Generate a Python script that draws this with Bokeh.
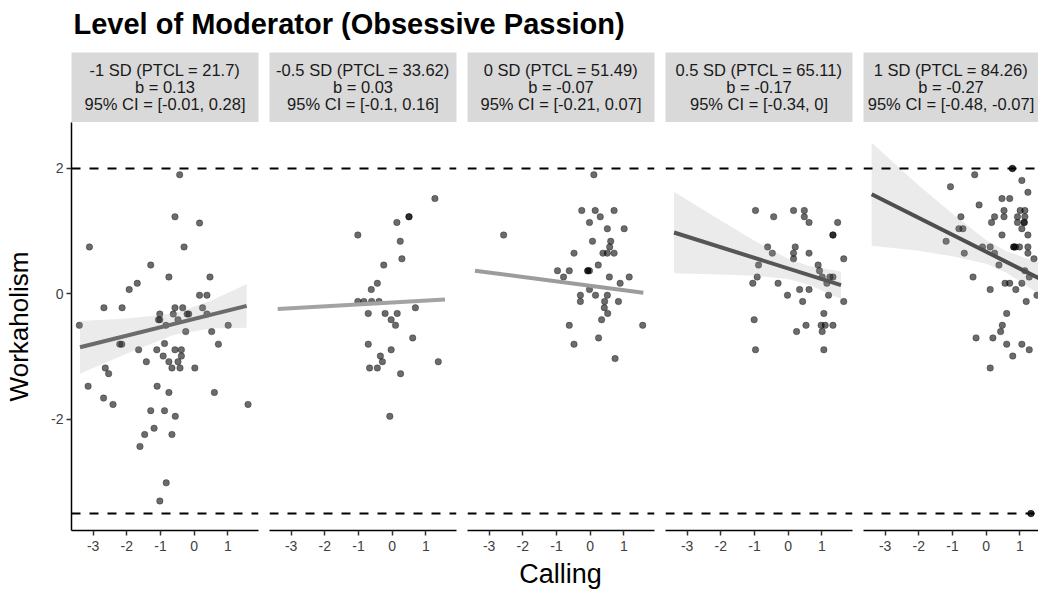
from bokeh.plotting import figure
from bokeh.layouts import column, row
from bokeh.models import Range1d, FixedTicker, Span
from bokeh.core.properties import value
from bokeh.embed import file_html
from bokeh.resources import INLINE

FONT = "Liberation Sans"

title_text = "Level of Moderator (Obsessive Passion)"
x_label = "Calling"
y_label = "Workaholism"
x_ticks = [-3, -2, -1, 0, 1]
x_tick_labels = ["-3", "-2", "-1", "0", "1"]
y_ticks = [-2, 0, 2]
y_tick_labels = ["-2", "0", "2"]
ref_lines = [2.0, -3.5]

strip_level = ["-1 SD (PTCL = 21.7)", "-0.5 SD (PTCL = 33.62)", "0 SD (PTCL = 51.49)",
               "0.5 SD (PTCL = 65.11)", "1 SD (PTCL = 84.26)"]
strip_b = ["b = 0.13", "b = 0.03", "b = -0.07", "b = -0.17", "b = -0.27"]
strip_ci = ["95% CI = [-0.01, 0.28]", "95% CI = [-0.1, 0.16]", "95% CI = [-0.21, 0.07]",
            "95% CI = [-0.34, 0]", "95% CI = [-0.48, -0.07]"]

# (Calling, Workaholism) points per moderator level
points_m1sd = [(-3.41, -0.50), (-3.11, 0.75), (-3.15, -1.47), (-2.68, -0.22), (-2.64, -1.18),
               (-2.54, -1.27), (-2.69, -1.66), (-2.41, -1.76), (-2.14, -0.22), (-2.21, -0.80),
               (-2.15, -0.80), (-1.93, 0.07), (-1.69, 0.17), (-1.65, -0.89), (-1.42, -1.08),
               (-1.61, -2.43), (-1.47, -2.24), (-1.29, 0.46), (-1.29, -1.86), (-1.19, -2.14),
               (-1.11, -0.89), (-1.10, -1.47), (-1.02, -0.32), (-1.02, -0.41), (-1.06, -0.41),
               (-0.92, -0.99), (-0.88, -0.79), (-0.88, -1.86), (-0.84, -0.50), (-0.83, -3.01),
               (-1.02, -3.30), (-0.75, 0.27), (-0.75, -1.08), (-0.75, -1.57), (-0.66, -1.18),
               (-0.66, -2.24), (-0.62, -0.32), (-0.57, 1.23), (-0.57, -0.22), (-0.57, -0.89),
               (-0.56, -1.95), (-0.48, -0.41), (-0.48, -1.08), (-0.43, 1.90), (-0.38, -0.89),
               (-0.38, -0.99), (-0.42, -1.18), (-0.34, -0.22), (-0.30, 0.75), (-0.25, -0.60),
               (-0.21, -0.32), (-0.16, -0.32), (0.02, -1.18), (0.16, 1.13), (0.16, -0.02),
               (0.25, -0.22), (0.38, -0.02), (0.38, -0.32), (0.47, 0.27), (0.52, -0.60),
               (0.60, -1.57), (0.72, -0.80), (1.01, -0.50), (1.60, -1.76)]
points_m05sd = [(1.27, 1.52), (0.50, 1.23), (0.50, 1.23), (0.14, 1.14), (-1.02, 0.94), (0.24, 0.84),
                (0.29, 0.56), (-0.25, 0.46), (-0.44, 0.17), (-0.62, 0.07), (-1.02, -0.12),
                (-0.84, -0.12), (-0.61, -0.12), (-0.39, -0.12), (0.69, -0.22), (-0.71, -0.31),
                (-0.21, -0.31), (0.15, -0.31), (-0.03, -0.41), (0.10, -0.50), (0.61, -0.70),
                (-0.71, -0.80), (-0.03, -0.89), (-0.35, -0.99), (-0.29, -1.08), (-0.67, -1.18),
                (-0.44, -1.18), (1.37, -1.08), (0.25, -1.27), (-0.07, -1.95)]
points_0sd = [(0.11, 1.90), (-0.25, 1.33), (0.15, 1.33), (0.71, 1.33), (0.30, 1.23), (-0.02, 1.14),
              (0.51, 1.04), (1.01, 1.04), (-2.57, 0.94), (0.07, 0.84), (0.61, 0.84), (0.58, 0.75),
              (-0.48, 0.65), (0.38, 0.65), (0.51, 0.65), (0.71, 0.65), (0.24, 0.46), (-0.97, 0.37),
              (-0.62, 0.37), (-0.07, 0.37), (-0.07, 0.37), (-0.02, 0.37), (-0.79, 0.27), (0.57, 0.27),
              (1.16, 0.27), (0.89, 0.17), (-0.02, 0.07), (-0.29, -0.02), (0.16, -0.02), (0.51, -0.02),
              (-0.29, -0.12), (0.43, -0.12), (0.84, -0.12), (0.42, -0.22), (0.52, -0.31),
              (0.34, -0.41), (-0.62, -0.50), (1.56, -0.50), (0.25, -0.70), (-0.48, -0.80),
              (0.74, -1.03)]
points_p05sd = [(-0.97, 1.33), (0.16, 1.33), (0.48, 1.33), (-0.43, 1.23), (0.48, 1.23), (0.62, 1.14),
                (1.47, 1.14), (1.33, 0.94), (1.33, 0.94), (-0.61, 0.75), (0.21, 0.75), (-0.47, 0.65),
                (0.16, 0.65), (0.62, 0.65), (0.16, 0.56), (1.65, 0.56), (-0.88, 0.46), (0.89, 0.46),
                (0.93, 0.37), (-0.92, 0.27), (1.01, 0.27), (1.24, 0.27), (1.33, 0.27), (-1.05, 0.17),
                (-0.30, 0.17), (1.15, 0.17), (0.34, 0.07), (0.62, 0.07), (-0.02, -0.02), (1.20, -0.02),
                (0.43, -0.12), (1.65, -0.12), (1.06, -0.31), (-1.01, -0.41), (0.53, -0.50),
                (0.98, -0.50), (1.10, -0.50), (1.33, -0.50), (0.25, -0.60), (1.01, -0.60),
                (-0.97, -0.89), (1.06, -0.89)]
points_p1sd = [(0.78, 2.00), (0.78, 2.00), (-0.34, 1.90), (1.06, 1.81), (-1.06, 1.71), (1.24, 1.62),
               (0.47, 1.52), (0.70, 1.52), (-0.21, 1.42), (0.53, 1.33), (1.01, 1.33), (1.15, 1.33),
               (-0.75, 1.23), (0.25, 1.23), (0.53, 1.23), (0.93, 1.23), (1.15, 1.23), (0.16, 1.14),
               (0.93, 1.14), (1.13, 1.14), (1.13, 1.14), (-0.81, 1.04), (-0.69, 1.04), (1.06, 1.04),
               (0.47, 0.94), (1.24, 0.94), (-1.19, 0.84), (-0.11, 0.75), (0.12, 0.75), (0.82, 0.75),
               (0.82, 0.75), (0.87, 0.75), (0.99, 0.75), (1.24, 0.75), (-0.65, 0.65), (0.25, 0.65),
               (1.24, 0.65), (1.42, 0.56), (0.38, 0.46), (1.15, 0.37), (-0.39, 0.27), (1.28, 0.27),
               (0.56, 0.17), (0.70, 0.17), (1.06, 0.17), (0.12, 0.07), (0.88, 0.07), (1.51, -0.02),
               (1.19, -0.12), (0.61, -0.31), (0.48, -0.50), (0.43, -0.60), (-0.30, -0.70),
               (0.20, -0.70), (0.61, -0.80), (1.06, -0.80), (1.28, -0.89), (0.79, -0.99),
               (0.12, -1.18), (1.33, -3.50), (1.33, -3.50)]

# fitted lines (endpoints)
fit_x = [[-3.39, 1.56], [-3.40, 1.57], [-3.42, 1.58], [-3.39, 1.57], [-3.40, 1.57]]
fit_y = [[-0.85, -0.19], [-0.24, -0.09], [0.37, 0.02], [0.98, 0.14], [1.59, 0.25]]
line_colors = ["#6b6b6b", "#a3a3a3", "#9c9c9c", "#565656", "#4e4e4e"]

# confidence ribbons (only drawn in panels 1, 4, 5)
band_x = [[-3.39, -2.0, -0.6, 0.5, 1.56], None, None,
          [-3.39, -2.0, -1.0, 0.0, 0.6, 1.57], [-3.40, -2.0, -1.0, 0.0, 0.6, 1.57]]
band_hi = [[-0.43, -0.39, -0.31, -0.11, 0.16], None, None,
           [1.63, 1.17, 0.85, 0.56, 0.45, 0.36], [2.41, 1.73, 1.28, 0.86, 0.68, 0.50]]
band_lo = [[-1.27, -0.95, -0.65, -0.55, -0.54], None, None,
           [0.33, 0.31, 0.29, 0.24, 0.15, -0.08], [0.77, 0.69, 0.60, 0.48, 0.34, 0.00]]

panel_points = [points_m1sd, points_m05sd, points_0sd, points_p05sd, points_p1sd]

X_START, X_END = -3.643, 1.911
Y_START, Y_END = -3.77, 2.733
FRAME_W = 187
PX_PER_X = FRAME_W / (X_END - X_START)

borders = [(71, 5), (6, 5), (6, 5), (6, 5), (6, 0)]
frame_w = [187, 187, 187, 187, 175]


def style_axis(ax, ticks, labels):
    ax.ticker = FixedTicker(ticks=ticks, minor_ticks=[])
    ax.major_label_overrides = {t: l for t, l in zip(ticks, labels)}
    ax.major_label_text_font = FONT
    ax.major_label_text_font_size = "14px"
    ax.major_label_text_color = "#404040"
    ax.major_tick_out = 5
    ax.major_tick_in = 0
    ax.minor_tick_out = 0
    ax.minor_tick_in = 0
    ax.axis_line_width = 1.5
    ax.axis_line_color = "black"
    ax.major_tick_line_color = "#333333"
    ax.major_tick_line_width = 1.5


strips = []
panels = []
for i in range(5):
    left, right = borders[i]
    fw = frame_w[i]
    x_end = X_START + fw / PX_PER_X
    xr = Range1d(X_START, x_end)
    cx = (X_START + X_END) / 2
    if fw < FRAME_W:
        # narrower last strip: keep its lines inside the visible box
        cx -= 6 / PX_PER_X

    s = figure(width=left + fw + right, height=70, x_range=xr, y_range=Range1d(0, 70),
               x_axis_type=None, y_axis_type=None, toolbar_location=None,
               output_backend="svg", min_border_left=left, min_border_right=right,
               min_border_top=0, min_border_bottom=0)
    s.background_fill_color = "#d9d9d9"
    s.border_fill_color = "white"
    s.outline_line_color = None
    s.grid.visible = False
    s.text(x=[cx, cx, cx], y=[53, 35.5, 19],
           text=[strip_level[i], strip_b[i], strip_ci[i]],
           text_align="center", text_baseline="middle",
           text_font=value(FONT), text_font_size="16.5px", text_color="#1a1a1a")
    strips.append(s)

    p = figure(width=left + fw + right, height=435, x_range=xr,
               y_range=Range1d(Y_START, Y_END), toolbar_location=None,
               output_backend="svg", min_border_left=left, min_border_right=right,
               min_border_top=0, min_border_bottom=27,
               y_axis_location=("left" if i == 0 else None))
    p.outline_line_color = None
    p.grid.visible = False
    p.background_fill_color = "white"
    p.border_fill_color = "white"

    for v in ref_lines:
        p.add_layout(Span(location=v, dimension="width", line_color="black",
                          line_dash="9 9", line_width=2))

    pts = panel_points[i]
    px = [a for a, b in pts]
    py = [b for a, b in pts]
    p.scatter(px, py, size=6.5, fill_color="black", fill_alpha=0.58,
              line_color="black", line_alpha=0.6, line_width=0.5)

    if band_x[i] is not None:
        p.varea(x=band_x[i], y1=band_lo[i], y2=band_hi[i],
                fill_color="#999999", fill_alpha=0.2)
    p.line(fit_x[i], fit_y[i], line_width=4, line_color=line_colors[i])

    ax = p.xaxis[0]
    style_axis(ax, x_ticks, x_tick_labels)
    ax.major_label_standoff = 5

    if i == 0:
        ay = p.yaxis[0]
        style_axis(ay, y_ticks, y_tick_labels)
        ay.major_label_standoff = 3
        ay.axis_label = y_label
        ay.axis_label_text_font = FONT
        ay.axis_label_text_font_size = "26px"
        ay.axis_label_text_font_style = "normal"
        ay.axis_label_text_color = "black"
        ay.axis_label_standoff = 14
    panels.append(p)

tf = figure(width=1038, height=52, x_range=Range1d(0, 1038), y_range=Range1d(0, 52),
            x_axis_type=None, y_axis_type=None, toolbar_location=None,
            output_backend="svg", min_border=0)
tf.outline_line_color = None
tf.grid.visible = False
tf.text(x=[73], y=[29], text=[title_text], text_align="left", text_baseline="middle",
        text_font=value(FONT), text_font_size="29px", text_font_style="bold",
        text_color="black")

lf = figure(width=1038, height=35, x_range=Range1d(0, 1038), y_range=Range1d(0, 35),
            x_axis_type=None, y_axis_type=None, toolbar_location=None,
            output_backend="svg", min_border=0)
lf.outline_line_color = None
lf.grid.visible = False
lf.text(x=[560], y=[18.4], text=[x_label], text_align="center", text_baseline="middle",
        text_font=value(FONT), text_font_size="27px", text_color="black")

layout = column(tf, row(*strips), row(*panels), lf)

with open("out.html", "w") as f:
    f.write(file_html(layout, INLINE))
